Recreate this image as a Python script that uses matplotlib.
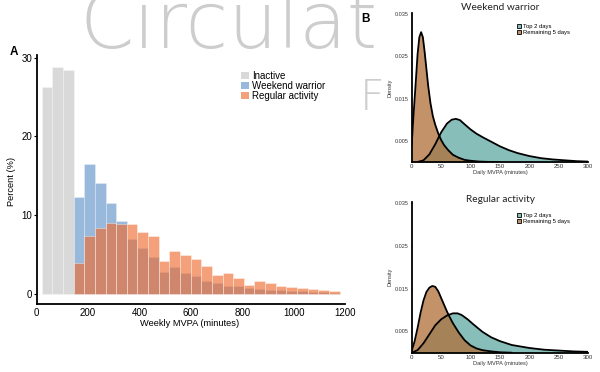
import matplotlib
matplotlib.use("Agg")
import matplotlib.pyplot as plt
from matplotlib.patches import Patch

plt.rcParams['font.family'] = ['Liberation Sans', 'DejaVu Sans']

# ---------------- Panel A data ----------------
bin_width = 41.4
inactive_starts = [19.5, 60.9, 102.3]
inactive_pct = [26.3, 28.8, 28.5]
active_starts = [143.7, 185.1, 226.5, 267.9, 309.3, 350.7, 392.1, 433.5, 474.9,
                 516.3, 557.7, 599.1, 640.5, 681.9, 723.3, 764.7, 806.1, 847.5,
                 888.9, 930.3, 971.7, 1013.1, 1054.5, 1095.9, 1137.3]
weekend_pct = [12.3, 16.5, 14.1, 11.5, 9.3, 6.9, 5.8, 4.7, 2.8, 3.35, 2.7, 2.2,
               1.65, 1.36, 1.0, 0.95, 0.72, 0.6, 0.5, 0.42, 0.34, 0.3, 0.25, 0.2, 0.15]
regular_pct = [3.9, 7.3, 8.3, 8.95, 8.9, 8.9, 7.9, 7.3, 4.2, 5.5, 4.95, 4.45,
               3.55, 2.4, 2.6, 2.0, 1.15, 1.56, 1.36, 1.0, 0.85, 0.72, 0.64, 0.5, 0.38]
legend_labels_A = ["Inactive", "Weekend warrior", "Regular activity"]
xticks_A = [0, 200, 400, 600, 800, 1000, 1200]
yticks_A = [0, 10, 20, 30]

# ---------------- Panel B data ----------------
ww_rem_x = [0, 3, 6, 10, 13, 16, 19, 22, 25, 28, 32, 36, 40, 45, 50, 55, 62, 70,
            80, 90, 100, 115, 130, 150]
ww_rem_y = [0.004, 0.011, 0.017, 0.0255, 0.0295, 0.0307, 0.0295, 0.026, 0.022,
            0.018, 0.0138, 0.0108, 0.0088, 0.0068, 0.0052, 0.004, 0.0028, 0.0017,
            0.001, 0.0005, 0.0003, 0.0001, 0.00003, 0.0]
ww_top_x = [10, 20, 30, 40, 50, 60, 68, 75, 82, 90, 100, 110, 120, 135, 150, 165,
            180, 200, 220, 240, 260, 280, 300]
ww_top_y = [0.0, 0.0004, 0.0018, 0.0042, 0.0070, 0.0091, 0.0100, 0.0102, 0.0099,
            0.0089, 0.0077, 0.0067, 0.0059, 0.0048, 0.0037, 0.0028, 0.0021, 0.0014,
            0.0009, 0.0006, 0.0004, 0.0002, 0.0001]
ra_rem_x = [0, 5, 10, 15, 20, 25, 30, 35, 40, 45, 50, 55, 60, 65, 70, 80, 90, 100,
            110, 120, 135, 150, 170]
ra_rem_y = [0.0004, 0.0027, 0.0058, 0.0093, 0.0122, 0.0142, 0.0152, 0.0156, 0.0154,
            0.0144, 0.0128, 0.0112, 0.0096, 0.0082, 0.0069, 0.0047, 0.0029, 0.0017,
            0.001, 0.0006, 0.0003, 0.0001, 0.0]
ra_top_x = [0, 10, 20, 30, 40, 50, 60, 70, 78, 85, 95, 105, 120, 135, 150, 170, 200,
            225, 250, 275, 300]
ra_top_y = [0.0, 0.0006, 0.0022, 0.0043, 0.0064, 0.0078, 0.0087, 0.0092, 0.0092,
            0.0088, 0.0078, 0.0066, 0.0049, 0.0036, 0.0027, 0.0018, 0.0011, 0.0007,
            0.0005, 0.0003, 0.0002]
legend_labels_B = ["Top 2 days", "Remaining 5 days"]
xticks_B = [0, 50, 100, 150, 200, 250, 300]
yticks_B = [0.005, 0.015, 0.025, 0.035]

W, H = 600, 372
fig = plt.figure(figsize=(6, 3.72), dpi=100)


def fx(x):
    return x / W


def fy(y):
    return 1 - y / H


# watermark (journal name, cut at the top edge as in the reference)
wm_font = ['DejaVu Sans']
fig.text(fx(80), fy(48), "Circulat", fontsize=56, color='#cdcdcd',
         family=wm_font, fontweight='light', va='baseline', ha='left', zorder=0)
fig.text(fx(360), fy(110), "F", fontsize=31, color='#cdcdcd',
         family=wm_font, fontweight='light', va='baseline', ha='left', zorder=0)

# ---------------- Panel A ----------------
gray = '#d9d9d9'
blue = '#98b8dc'
orange = '#ee6b2f'
axA = fig.add_axes([fx(36.7), fy(304), fx(345 - 36.7), (304 - 54.6) / H])
axA.patch.set_alpha(0)
edge = (1, 1, 1, 0.45)
axA.bar(inactive_starts, inactive_pct, width=bin_width, align='edge', color=gray,
        edgecolor=edge, linewidth=0.4)
axA.bar(active_starts, weekend_pct, width=bin_width, align='edge', color=blue,
        edgecolor=edge, linewidth=0.4)
axA.bar(active_starts, regular_pct, width=bin_width, align='edge', color=orange,
        alpha=0.64, edgecolor=edge, linewidth=0.4)
axA.set_xlim(0, 1200)
axA.set_ylim(-1.3, 30.4)
axA.set_xticks(xticks_A)
axA.set_yticks(yticks_A)
for s in ['top', 'right']:
    axA.spines[s].set_visible(False)
for s in ['left', 'bottom']:
    axA.spines[s].set_linewidth(1.3)
    axA.spines[s].set_color('black')
axA.tick_params(axis='y', labelsize=7, length=2, width=0.8, pad=1.2)
axA.tick_params(axis='x', labelsize=7, length=0, pad=3)
handles = [Patch(facecolor=gray), Patch(facecolor=blue),
           Patch(facecolor='#f4a07a')]
axA.legend(handles, legend_labels_A, loc='upper left',
           bbox_to_anchor=((240.7 - 36.7) / 308.3, (304 - 71) / (304 - 54.6)),
           frameon=False, fontsize=7, handlelength=0.9, handleheight=0.8,
           handletextpad=0.3, labelspacing=0.0, borderpad=0, borderaxespad=0)
fig.text(fx(11.7), fy(182), "Percent (%)", rotation=90, fontsize=6.7,
         ha='center', va='center')
fig.text(fx(190), fy(323.5), "Weekly MVPA (minutes)", fontsize=6.7,
         ha='center', va='center')
fig.text(fx(14), fy(52), "A", fontsize=8.5, fontweight='bold', ha='center',
         va='center')
fig.text(fx(366), fy(19), "B", fontsize=8.5, fontweight='bold', ha='center',
         va='center')

# ---------------- Panel B ----------------
teal = '#60a8a2'
brown = '#b06e36'


def density_panel(top_px, bottom_px, top_x, top_y, rem_x, rem_y, title, title_y,
                  xlabel_y):
    ax = fig.add_axes([fx(411.7), fy(bottom_px), fx(588.3 - 411.7),
                       (bottom_px - top_px) / H])
    ax.patch.set_alpha(0)
    ax.fill_between(top_x, top_y, 0, color=teal, alpha=0.75, linewidth=0)
    ax.fill_between(rem_x, rem_y, 0, color=brown, alpha=0.75, linewidth=0)
    ax.plot(top_x, top_y, color='black', lw=1.3, solid_capstyle='round')
    ax.plot(rem_x, rem_y, color='black', lw=1.3, solid_capstyle='round')
    ax.set_xlim(0, 300)
    ax.set_ylim(0, 0.0353)
    ax.set_xticks(xticks_B)
    ax.set_yticks(yticks_B)
    ax.set_yticklabels([f"{v:.3f}" for v in yticks_B])
    for s in ['top', 'right']:
        ax.spines[s].set_visible(False)
    for s in ['left', 'bottom']:
        ax.spines[s].set_linewidth(1.3)
        ax.spines[s].set_color('black')
    ax.tick_params(axis='y', labelsize=4, length=0.8, width=0.6, pad=1.5,
                   colors='#333333')
    ax.tick_params(axis='x', labelsize=4.4, length=0, pad=1.5, colors='#333333')
    hB = [Patch(facecolor='#88bdb8', edgecolor='black', linewidth=0.6),
          Patch(facecolor='#c4926a', edgecolor='black', linewidth=0.6)]
    ax.legend(hB, legend_labels_B, loc='upper left',
              bbox_to_anchor=(0.595, (bottom_px - (top_px + 11)) / (bottom_px - top_px)),
              frameon=False, fontsize=4.2, handlelength=0.8, handleheight=0.8,
              handletextpad=0.3, labelspacing=0.15, borderpad=0, borderaxespad=0)
    fig.text(fx(500), fy(title_y), title, fontsize=7.3,
             family=['Lato', 'DejaVu Sans'], ha='center', va='center',
             color='#222222')
    fig.text(fx(500), fy(xlabel_y), "Daily MVPA (minutes)", fontsize=4.1,
             ha='center', va='center', color='#333333')
    fig.text(fx(390), fy((top_px + bottom_px) / 2), "Density", fontsize=4,
             rotation=90, ha='center', va='center', color='#333333')
    return ax


density_panel(12.7, 162, ww_top_x, ww_top_y, ww_rem_x, ww_rem_y,
              "Weekend warrior", 7.5, 172.7)
density_panel(201.7, 352.7, ra_top_x, ra_top_y, ra_rem_x, ra_rem_y,
              "Regular activity", 199, 363.3)

fig.savefig("out.png", dpi=100)
